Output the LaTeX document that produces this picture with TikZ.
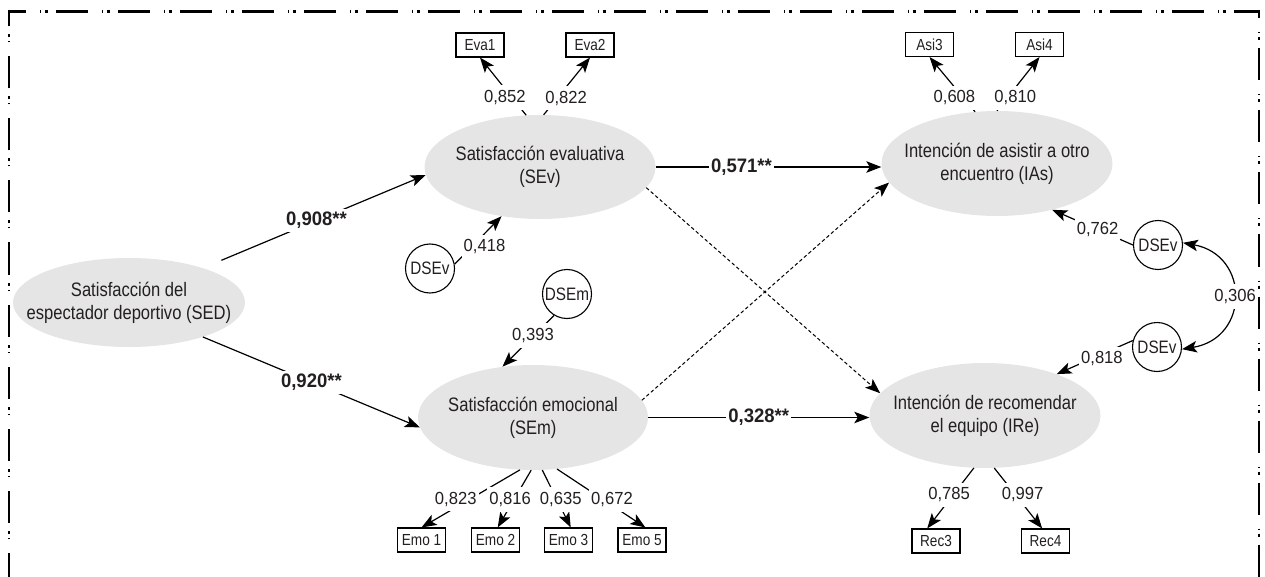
\documentclass[tikz,border=0pt]{standalone}
\usepackage{fontspec}
\setmainfont{Liberation Sans}[FakeStretch=0.85]
\newfontfamily\numf{Liberation Sans}[FakeStretch=0.95]
\usetikzlibrary{arrows.meta,shapes.geometric}
\definecolor{latgray}{RGB}{229,229,229}
\definecolor{ink}{RGB}{35,31,32}
\begin{document}
\begin{tikzpicture}[x=1pt,y=-1pt,
  myhead/.tip={Stealth[length=15pt,width=11.5pt,inset=3.5pt]},
  lat/.style={ellipse, fill=latgray, inner xsep=-40pt, inner ysep=-18pt, align=center,
              font=\fontsize{19.5}{23}\selectfont, text=ink},
  obs/.style={draw, line width=1.1pt, minimum width=48pt, minimum height=24pt, inner sep=1pt,
              font=\fontsize{16}{18}\selectfont, text=ink},
  err/.style={circle, draw, line width=1.1pt, minimum size=49pt, inner sep=0pt,
              font=\fontsize{18}{20}\selectfont, text=ink},
  arr/.style={line width=1.2pt, -myhead},
  dsh/.style={line width=1pt, -myhead, dash pattern=on 3.5pt off 2.5pt},
  lbl/.style={fill=white, inner xsep=2pt, inner ysep=5pt,
              font=\numf\fontsize{17.5}{19}\selectfont, text=ink},
  coef/.style={fill=white, inner xsep=2pt, inner ysep=3pt,
               font=\numf\bfseries\fontsize{19.5}{22}\selectfont, text=ink},
  frame/.style={line width=2.4pt, dash pattern=on 32pt off 14pt on 1pt off 4pt on 3pt off 8pt, dash phase=7.5pt}
]
\useasboundingbox (0,0) rectangle (1265,577);

% latent variables
\node[lat, minimum width=232pt, minimum height=89pt] (SED) at (129,302.5) {Satisfacción del\\espectador deportivo (SED)};
\node[lat, minimum width=231pt, minimum height=104pt] (SEv) at (540,167) {Satisfacción evaluativa\\(SEv)};
\node[lat, minimum width=230pt, minimum height=105pt] (SEm) at (533,417.5) {Satisfacción emocional\\(SEm)};
\node[lat, minimum width=231pt, minimum height=105pt] (IAs) at (997,163.5) {Intención de asistir a otro\\encuentro (IAs)};
\node[lat, minimum width=231pt, minimum height=105pt] (IRe) at (985,415.5) {Intención de recomendar\\el equipo (IRe)};

% observed indicators
\node[obs] (eva1) at (480,45) {Eva1};
\node[obs] (eva2) at (590,45) {Eva2};
\node[obs] (asi3) at (929.5,44.5) {Asi3};
\node[obs] (asi4) at (1039.5,44.5) {Asi4};
\node[obs] (emo1) at (421.5,540) {Emo 1};
\node[obs] (emo2) at (495.5,540) {Emo 2};
\node[obs] (emo3) at (568.5,540) {Emo 3};
\node[obs] (emo5) at (642,540) {Emo 5};
\node[obs] (rec3) at (936,541) {Rec3};
\node[obs] (rec4) at (1045.5,541) {Rec4};

% disturbances
\node[err] (dsev) at (430,268.5) {DSEv};
\node[err] (dsem) at (567,294) {DSEm};
\node[err] (dias) at (1158,245) {DSEv};
\node[err] (dire) at (1157,347) {DSEv};

% structural paths
\draw[arr, shorten <=20pt] (SED.25) -- node[coef,pos=.51]{0,908**} (SEv.184);
\draw[arr] (SED.-25) -- node[coef,pos=.5]{0,920**} (SEm.185);
\draw[arr] (SEv.east) -- node[coef,pos=.38]{0,571**} (SEv.east -| IAs.west);
\draw[arr] (SEm.east) -- node[coef,pos=.5]{0,328**} (SEm.east -| IRe.west);
\draw[dsh] (SEv.-11) -- (IRe.168);
\draw[dsh] (SEm.9) -- (IAs.190);

% loadings
\draw[arr] (SEv.105) -- node[lbl,pos=.31,xshift=-7pt]{0,852} (eva1.south);
\draw[arr] (SEv.86) -- node[lbl,pos=.29,xshift=9pt]{0,822} (eva2.south);
\draw[arr] (IAs.113) -- node[lbl,pos=.255,xshift=-9pt]{0,608} (asi3.south);
\draw[arr] (IAs.90) -- node[lbl,pos=.24,xshift=8pt]{0,810} (asi4.south);
\draw[arr] (SEm.256) -- node[lbl,pos=.51,xshift=-14pt]{0,823} (emo1.north);
\draw[arr] (SEm.268) -- node[lbl,pos=.51,xshift=-4pt]{0,816} (emo2.80);
\draw[arr] (SEm.280) -- node[lbl,pos=.51,xshift=4pt]{0,635} (emo3.80);
\draw[arr] (SEm.295) -- node[lbl,pos=.52,xshift=9pt]{0,672} (emo5.75);
\draw[arr] (IRe.258) -- node[lbl,pos=.445,xshift=-4pt]{0,785} (rec3.125);
\draw[arr] (IRe.280) -- node[lbl,pos=.445,xshift=7pt]{0,997} (rec4.105);

% disturbance paths
\draw[arr] (dsev.10) -- node[lbl,pos=.36,xshift=13pt]{0,418} (SEv.232);
\draw[arr] (dsem.239) -- node[lbl,pos=.39,xshift=-1pt]{0,393} (SEm.121);
\draw[arr] (dias.west) -- node[lbl,pos=.45,xshift=1pt]{0,762} (IAs.-40);
\draw[arr] (dire.165) -- node[lbl,pos=.55,xshift=11pt]{0,818} (IRe.30);
\draw[line width=1.2pt, myhead-myhead] (dias.5) .. controls (1250,255) and (1250,338) .. node[lbl,pos=.5,xshift=2pt]{0,306} (dire.-5);

% frame
\draw[frame] (9,577) -- (9,11.5) -- (1259,11.5) -- (1259,577);
\end{tikzpicture}
\end{document}
